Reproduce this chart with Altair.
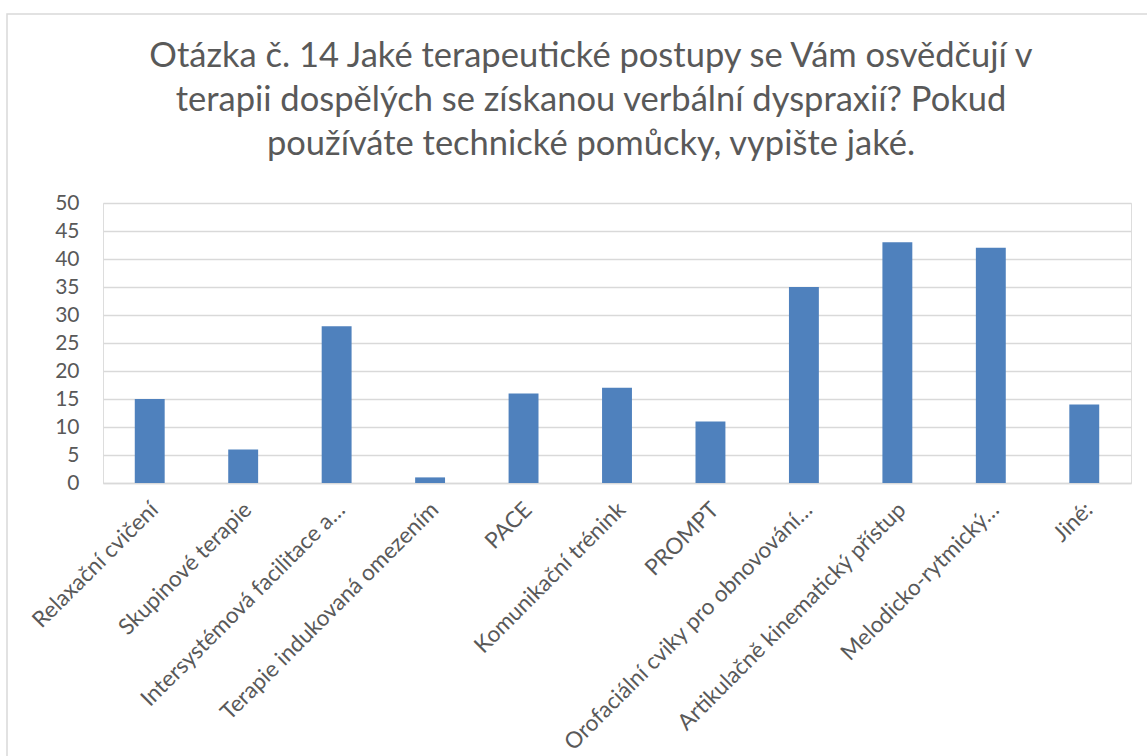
import altair as alt
import pandas as pd

categories = [
    "Relaxační cvičení",
    "Skupinové terapie",
    "Intersystémová facilitace a…",
    "Terapie indukovaná omezením",
    "PACE",
    "Komunikační trénink",
    "PROMPT",
    "Orofaciální cviky pro obnovování…",
    "Artikulačně kinematický přístup",
    "Melodicko-rytmický…",
    "Jiné:",
]
values = [15, 6, 28, 1, 16, 17, 11, 35, 43, 42, 14]
y_ticks = [0, 5, 10, 15, 20, 25, 30, 35, 40, 45, 50]
title_lines = [
    "Otázka č. 14 Jaké terapeutické postupy se Vám osvědčují v",
    "terapii dospělých se získanou verbální dyspraxií? Pokud",
    "používáte technické pomůcky, vypište jaké.",
]

df = pd.DataFrame({"kategorie": categories, "pocet": values})

FONT = "Lato"
TXT = "#595959"
GRID = "#d9d9d9"

W, H = 1028, 280
PAD_L, PAD_T = 103, 203

one = pd.DataFrame({"a": [0]})

border = alt.Chart(one).mark_rect(
    fill="white", fillOpacity=0, stroke=GRID, strokeWidth=1.5
).encode(
    x=alt.value(7 - PAD_L),
    x2=alt.value(1152 - PAD_L),
    y=alt.value(14 - PAD_T),
    y2=alt.value(762 - PAD_T),
)

title = alt.Chart(one).mark_text(
    font=FONT,
    fontSize=34.5,
    color=TXT,
    align="center",
    baseline="alphabetic",
    lineBreak="\n",
    lineHeight=44,
).encode(
    x=alt.value(591 - PAD_L),
    y=alt.value(67 - PAD_T),
    text=alt.value("\n".join(title_lines)),
)

bars = alt.Chart(df).mark_bar(color="#4F81BD").encode(
    x=alt.X(
        "kategorie:N",
        sort=categories,
        scale=alt.Scale(paddingInner=0.68, paddingOuter=0.34),
        axis=alt.Axis(
            title=None,
            labelAngle=-45,
            labelAlign="right",
            labelBaseline="top",
            labelPadding=15,
            labelOffset=-3,
            labelFont=FONT,
            labelFontSize=22.5,
            labelColor=TXT,
            labelLimit=600,
            ticks=False,
            domain=True,
            domainColor=GRID,
            domainWidth=1.5,
        ),
    ),
    y=alt.Y(
        "pocet:Q",
        scale=alt.Scale(domain=[0, 50], nice=False),
        axis=alt.Axis(
            title=None,
            values=y_ticks,
            labelFont=FONT,
            labelFontSize=21,
            labelColor=TXT,
            labelPadding=24,
            ticks=False,
            domain=False,
            grid=True,
            gridColor=GRID,
            gridWidth=1.5,
        ),
    ),
)

chart = (
    alt.layer(border, title, bars)
    .properties(
        width=W,
        height=H,
        padding={"left": PAD_L, "top": PAD_T, "right": 1147 - PAD_L - W, "bottom": 756 - PAD_T - H},
        autosize=alt.AutoSizeParams(type="none"),
    )
    .configure_view(stroke=None)
    .configure(background="white")
)

chart.save("out.html", embed_options={"renderer": "svg", "actions": False})
